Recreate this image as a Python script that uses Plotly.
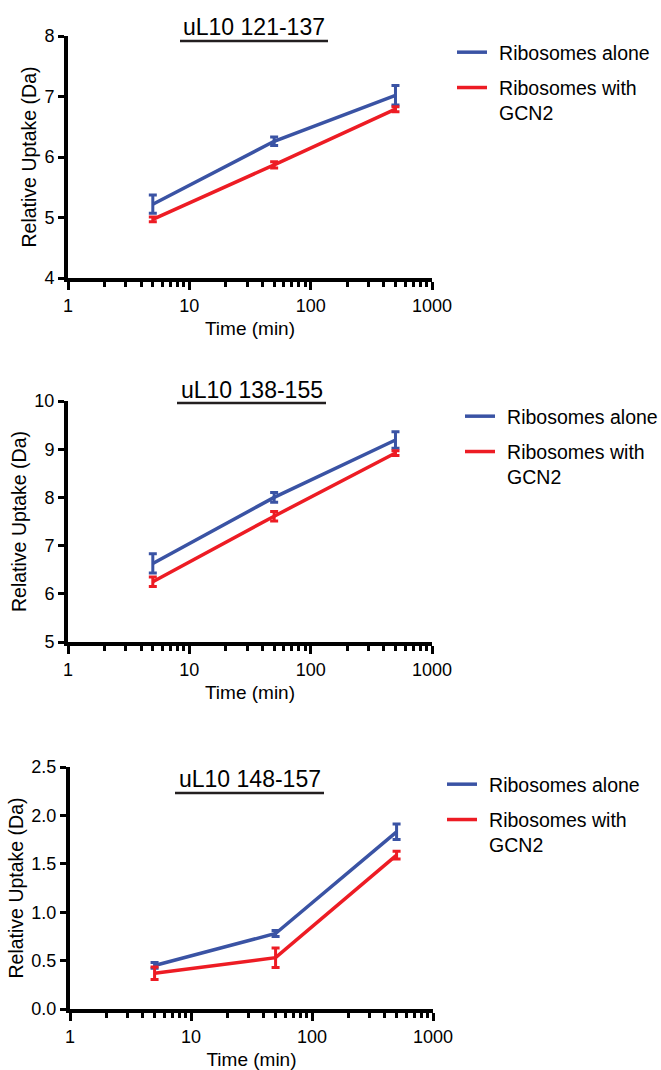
import plotly.graph_objects as go

# ---------------- data ----------------
times = [5, 50, 500]
series_names = ["Ribosomes alone", "Ribosomes with<br>GCN2"]
panel_titles = ["uL10 121-137", "uL10 138-155", "uL10 148-157"]

p1_alone = [5.22, 6.26, 7.02]
p1_alone_err = [0.15, 0.07, 0.16]
p1_gcn2 = [4.97, 5.87, 6.79]
p1_gcn2_err = [0.04, 0.05, 0.04]

p2_alone = [6.63, 8.00, 9.19]
p2_alone_err = [0.20, 0.10, 0.17]
p2_gcn2 = [6.25, 7.61, 8.92]
p2_gcn2_err = [0.10, 0.10, 0.05]

p3_alone = [0.45, 0.78, 1.83]
p3_alone_err = [0.03, 0.03, 0.08]
p3_gcn2 = [0.37, 0.53, 1.59]
p3_gcn2_err = [0.065, 0.10, 0.04]

y_ranges = [[4, 8], [5, 10], [0, 2.5]]
y_dticks = [1, 1, 0.5]
y_formats = ["d", "d", ".1f"]
x_tickvals = [1, 10, 100, 1000]
x_ticktext = ["1", "10", "100", "1000"]

# ---------------- styling ----------------
W, H = 661, 1070
BLUE = "#3a53a4"
RED = "#ed1c24"
FONT = "Liberation Sans, Arial, Helvetica, sans-serif"
PAD = "\u00a0\u200a"


def fx(px):
    return px / W


def fy(py):
    return 1 - py / H


panels = [
    dict(alone=p1_alone, alone_err=p1_alone_err, gcn2=p1_gcn2, gcn2_err=p1_gcn2_err,
         plot=(68, 432, 36, 278), title_y=27, ul=(180, 328, 41), legend=(452, 33)),
    dict(alone=p2_alone, alone_err=p2_alone_err, gcn2=p2_gcn2, gcn2_err=p2_gcn2_err,
         plot=(68, 432, 401, 642), title_y=390, ul=(177, 326, 403), legend=(460, 397)),
    dict(alone=p3_alone, alone_err=p3_alone_err, gcn2=p3_gcn2, gcn2_err=p3_gcn2_err,
         plot=(70, 433, 767, 1009), title_y=779, ul=(175, 324, 793), legend=(442, 765)),
]

fig = go.Figure()
layout = dict(
    template="none",
    width=W, height=H,
    margin=dict(l=0, r=0, t=0, b=0, autoexpand=False),
    paper_bgcolor="white", plot_bgcolor="white",
    font=dict(family=FONT, color="black", size=18),
    showlegend=True,
    shapes=[], annotations=[],
)

for i, p in enumerate(panels):
    k = "" if i == 0 else str(i + 1)
    xa, ya = "x" + k, "y" + k
    lg = "legend" + k
    for j, (name, vals, errs, col) in enumerate([
        (series_names[0], p["alone"], p["alone_err"], BLUE),
        (series_names[1], p["gcn2"], p["gcn2_err"], RED),
    ]):
        label = PAD + name.replace("<br>", "<br>" + PAD)
        fig.add_trace(go.Scatter(
            x=times, y=vals, name=label, mode="lines",
            line=dict(color=col, width=3.5),
            error_y=dict(type="data", array=errs, visible=True,
                         color=col, thickness=3, width=4),
            xaxis=xa, yaxis=ya, legend=lg, showlegend=True,
            legendgroup=f"g{i}{j}",
        ))
    x0, x1, y0, y1 = p["plot"]
    layout["xaxis" + k] = dict(
        type="log", range=[0, 3], domain=[fx(x0), fx(x1)], anchor=ya,
        automargin=False,
        tickvals=x_tickvals, ticktext=x_ticktext,
        ticks="outside", ticklen=8, tickwidth=3, tickcolor="black",
        minor=dict(ticks="outside", ticklen=5, tickwidth=3, tickcolor="black",
                   tickvals=[m * d for d in (1, 10, 100) for m in range(2, 10)]),
        showline=True, linewidth=4, linecolor="black",
        showgrid=False, zeroline=False,
        tickfont=dict(size=18),
        title=dict(text="Time (min)", font=dict(size=19), standoff=8),
    )
    layout["yaxis" + k] = dict(
        range=y_ranges[i], dtick=y_dticks[i], tickformat=y_formats[i],
        domain=[fy(y1), fy(y0)], anchor=xa,
        automargin=False,
        ticks="outside", ticklen=6, tickwidth=3, tickcolor="black",
        showline=True, linewidth=4, linecolor="black",
        showgrid=False, zeroline=False,
        tickfont=dict(size=18),
        title=dict(text="Relative Uptake (Da)", font=dict(size=19.5), standoff=4),
    )
    ux0, ux1, uy = p["ul"]
    layout["shapes"].append(dict(type="line", xref="paper", yref="paper",
                                 x0=fx(ux0), x1=fx(ux1), y0=fy(uy), y1=fy(uy),
                                 line=dict(color="#231f20", width=2.5)))
    layout["annotations"].append(dict(text=panel_titles[i], xref="paper", yref="paper",
                                      x=fx((ux0 + ux1) / 2), y=fy(p["title_y"]),
                                      xanchor="center", yanchor="middle", showarrow=False,
                                      font=dict(size=23)))
    lx, ly = p["legend"]
    layout[lg] = dict(x=fx(lx), y=fy(ly), xanchor="left", yanchor="top",
                      xref="container", yref="container",
                      font=dict(size=19.5), bgcolor="rgba(0,0,0,0)", borderwidth=0,
                      itemwidth=30, valign="top", tracegroupgap=7)

fig.update_layout(**layout)
fig.write_html("out.html", config={"displayModeBar": False},
               post_script="document.body.style.margin='0';")
